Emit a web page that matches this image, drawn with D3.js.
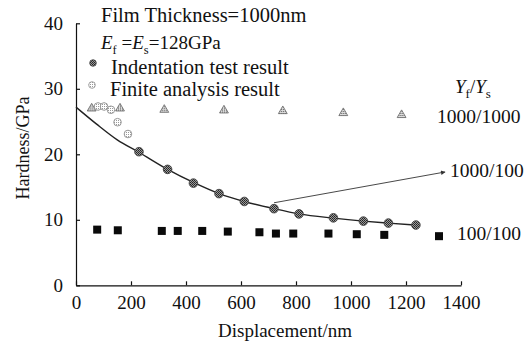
<!DOCTYPE html>
<html>
<head>
<meta charset="utf-8">
<script src="https://cdn.jsdelivr.net/npm/d3@7"></script>
<style>
  body { margin: 0; background: #fff; }
  svg { display: block; }
  svg text { font-family: "Liberation Serif", "Times New Roman", serif; fill: #111; }
</style>
</head>
<body>
<div class="chart"></div>
<script>
// tick labels
const xTicks = [0, 200, 400, 600, 800, 1000, 1200, 1400];
const yTicks = [0, 10, 20, 30, 40];

// Yf/Ys = 1000/1000 (triangles)
const triX = [57, 160, 321, 538, 752, 972, 1184];
const triY = [27.0, 27.0, 26.8, 26.7, 26.6, 26.3, 26.0];

// Yf/Ys = 100/100 (squares)
const sqX = [77, 152, 312, 370, 459, 552, 667, 727, 790, 918, 1021, 1121, 1320];
const sqY = [8.5, 8.4, 8.3, 8.3, 8.3, 8.2, 8.1, 7.9, 7.9, 7.9, 7.8, 7.7, 7.5];

// Yf/Ys = 1000/100 indentation test result
const indX = [229, 333, 427, 520, 612, 720, 811, 936, 1045, 1136, 1236];
const indY = [20.4, 17.7, 15.6, 14.0, 12.8, 11.7, 10.9, 10.3, 9.8, 9.5, 9.2];

// finite analysis result (light circles)
const finX = [80, 102, 127, 151, 189];
const finY = [27.3, 27.3, 26.8, 24.9, 23.1];

// fitted curve through the 1000/100 points
const fitX = [0, 75, 150, 229, 333, 427, 520, 612, 720, 811, 936, 1045, 1136, 1236];
const fitY = [27.2, 24.6, 22.2, 20.3, 17.7, 15.7, 14.0, 12.8, 11.7, 10.9, 10.25, 9.8, 9.5, 9.2];

// arrow pointing at the 1000/100 curve label
const arrowX = [720, 1342];
const arrowY = [12.6, 17.3];

const width = 532, height = 350;
const serif = '"Liberation Serif", "Times New Roman", serif';

const svg = d3.select('.chart').append('svg')
  .attr('width', width)
  .attr('height', height)
  .attr('font-family', serif);

const defs = svg.append('defs');
// speckled fills used by the printed markers
const dark = defs.append('pattern').attr('id', 'darkDots')
  .attr('width', 2).attr('height', 2).attr('patternUnits', 'userSpaceOnUse');
dark.append('rect').attr('width', 2).attr('height', 2).attr('fill', '#9a9a9a');
dark.append('rect').attr('width', 1).attr('height', 1).attr('fill', '#222');
dark.append('rect').attr('x', 1).attr('y', 1).attr('width', 1).attr('height', 1).attr('fill', '#333');

const light = defs.append('pattern').attr('id', 'lightDots')
  .attr('width', 2).attr('height', 2).attr('patternUnits', 'userSpaceOnUse');
light.append('rect').attr('width', 2).attr('height', 2).attr('fill', '#fff');
light.append('rect').attr('width', 1).attr('height', 1).attr('fill', '#999');

const tri = defs.append('pattern').attr('id', 'triDots')
  .attr('width', 2).attr('height', 2).attr('patternUnits', 'userSpaceOnUse');
tri.append('rect').attr('width', 2).attr('height', 2).attr('fill', '#ddd');
tri.append('rect').attr('width', 1).attr('height', 1).attr('fill', '#555');

defs.append('marker').attr('id', 'arrowHead')
  .attr('viewBox', '0 0 10 10').attr('refX', 9).attr('refY', 5)
  .attr('markerWidth', 7).attr('markerHeight', 5).attr('orient', 'auto')
  .append('path').attr('d', 'M0,0L10,5L0,10z').attr('fill', '#333');

const x = d3.scaleLinear().domain([0, 1400]).range([76, 461]);
const y = d3.scaleLinear().domain([0, 40]).range([285.3, 23.3]);

// axes, ticks pointing inwards
const xAxis = d3.axisBottom(x).tickValues(xTicks).tickFormat(d3.format('d'))
  .tickSizeInner(-4).tickSizeOuter(0).tickPadding(10);
const yAxis = d3.axisLeft(y).tickValues(yTicks).tickFormat(d3.format('d'))
  .tickSizeInner(-4).tickSizeOuter(0).tickPadding(13);

const gx = svg.append('g').attr('transform', 'translate(0,' + y(0) + ')').call(xAxis);
const gy = svg.append('g').attr('transform', 'translate(' + x(0) + ',0)').call(yAxis);

[gx, gy].forEach(function(g) {
  g.attr('font-family', serif).attr('font-size', 19);
  g.select('.domain').attr('stroke', '#111').attr('stroke-width', 1.2);
  g.selectAll('.tick line').attr('stroke', '#111').attr('stroke-width', 1.2);
  g.selectAll('.tick text').attr('fill', '#111');
});
gx.selectAll('.tick text').attr('dy', '0.71em');

svg.append('text')
  .attr('x', 285).attr('y', 337)
  .attr('text-anchor', 'middle')
  .attr('font-size', 19)
  .text('Displacement/nm');

svg.append('text')
  .attr('transform', 'translate(29,148) rotate(-90)')
  .attr('text-anchor', 'middle')
  .attr('font-size', 18)
  .text('Hardness/GPa');

// fitted curve
const line = d3.line()
  .x(function(d) { return x(d[0]); })
  .y(function(d) { return y(d[1]); })
  .curve(d3.curveMonotoneX);

svg.append('path')
  .datum(d3.zip(fitX, fitY))
  .attr('d', line)
  .attr('fill', 'none')
  .attr('stroke', '#222')
  .attr('stroke-width', 1.4);

// arrow
svg.append('line')
  .attr('x1', x(arrowX[0])).attr('y1', y(arrowY[0]))
  .attr('x2', x(arrowX[1])).attr('y2', y(arrowY[1]))
  .attr('stroke', '#333').attr('stroke-width', 0.9)
  .attr('marker-end', 'url(#arrowHead)');

// triangles
const triPath = d3.symbol().type(d3.symbolTriangle).size(34);
svg.selectAll('.tri')
  .data(d3.zip(triX, triY))
  .enter().append('path')
  .attr('class', 'tri')
  .attr('d', triPath)
  .attr('transform', function(d) { return 'translate(' + x(d[0]) + ',' + y(d[1]) + ')'; })
  .attr('fill', 'url(#triDots)')
  .attr('stroke', '#666').attr('stroke-width', 0.8);

// squares
svg.selectAll('.sq')
  .data(d3.zip(sqX, sqY))
  .enter().append('rect')
  .attr('class', 'sq')
  .attr('x', function(d) { return x(d[0]) - 4; })
  .attr('y', function(d) { return y(d[1]) - 4; })
  .attr('width', 8).attr('height', 8)
  .attr('fill', '#0a0a0a');

// finite analysis
svg.selectAll('.fin')
  .data(d3.zip(finX, finY))
  .enter().append('circle')
  .attr('class', 'fin')
  .attr('cx', function(d) { return x(d[0]); })
  .attr('cy', function(d) { return y(d[1]); })
  .attr('r', 3.8)
  .attr('fill', 'url(#lightDots)')
  .attr('stroke', '#999').attr('stroke-width', 1);

// indentation test
svg.selectAll('.ind')
  .data(d3.zip(indX, indY))
  .enter().append('circle')
  .attr('class', 'ind')
  .attr('cx', function(d) { return x(d[0]); })
  .attr('cy', function(d) { return y(d[1]); })
  .attr('r', 4.3)
  .attr('fill', 'url(#darkDots)')
  .attr('stroke', '#444').attr('stroke-width', 0.9);

// legend block
svg.append('text').attr('x', 101).attr('y', 22).attr('font-size', 20.5)
  .text('Film Thickness=1000nm');

const e = svg.append('text').attr('x', 101).attr('y', 49).attr('font-size', 19);
e.append('tspan').attr('font-style', 'italic').text('E');
e.append('tspan').attr('dy', 5).attr('font-size', 12.5).text('f');
e.append('tspan').attr('dy', -5).text(' =');
e.append('tspan').attr('font-style', 'italic').text('E');
e.append('tspan').attr('dy', 5).attr('font-size', 12.5).text('s');
e.append('tspan').attr('dy', -5).text('=128GPa');

svg.append('circle').attr('cx', 93).attr('cy', 63).attr('r', 3.3)
  .attr('fill', 'url(#darkDots)').attr('stroke', '#444').attr('stroke-width', 0.8);
svg.append('text').attr('x', 111).attr('y', 74).attr('font-size', 20.5)
  .text('Indentation test result');

svg.append('circle').attr('cx', 92).attr('cy', 85).attr('r', 3.3)
  .attr('fill', 'url(#lightDots)').attr('stroke', '#999').attr('stroke-width', 0.9);
svg.append('text').attr('x', 110).attr('y', 96).attr('font-size', 20.5)
  .text('Finite analysis result');

// series labels on the right
const ys = svg.append('text').attr('x', 455).attr('y', 93).attr('font-size', 19);
ys.append('tspan').attr('font-style', 'italic').text('Y');
ys.append('tspan').attr('dy', 5).attr('font-size', 13).text('f');
ys.append('tspan').attr('dy', -5).text('/');
ys.append('tspan').attr('font-style', 'italic').text('Y');
ys.append('tspan').attr('dy', 5).attr('font-size', 13).text('s');

svg.append('text').attr('x', 437).attr('y', 123).attr('font-size', 19.5).text('1000/1000');
svg.append('text').attr('x', 450).attr('y', 177).attr('font-size', 19.5).text('1000/100');
svg.append('text').attr('x', 457).attr('y', 240).attr('font-size', 19.5).text('100/100');
</script>
</body>
</html>
